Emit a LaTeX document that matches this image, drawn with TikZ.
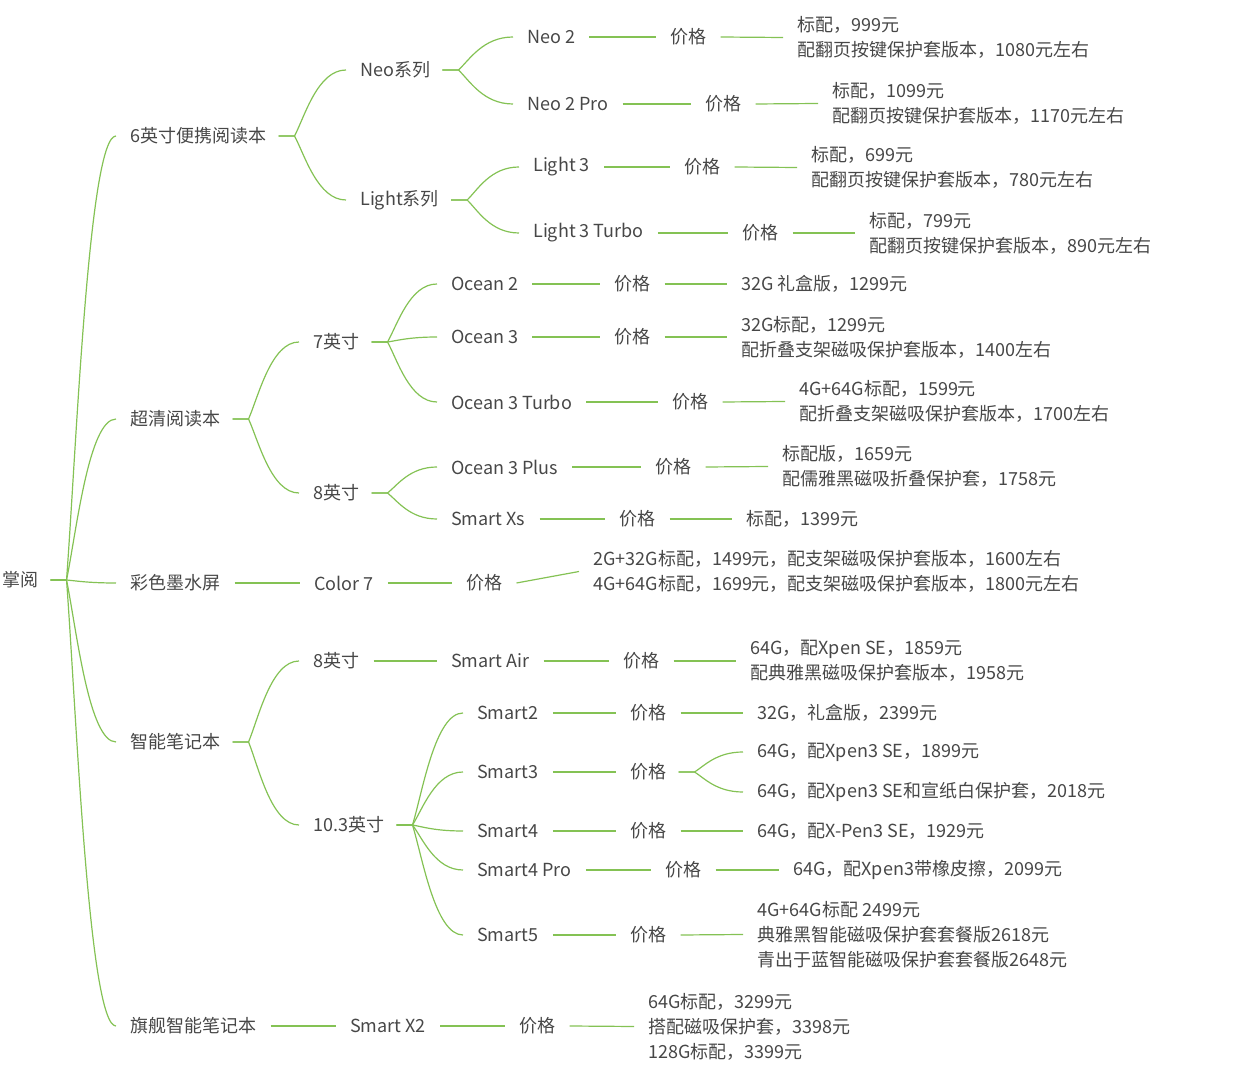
\documentclass[tikz,border=0pt]{standalone}
\usepackage{fontspec}
\setmainfont{Noto Sans CJK SC}
\usetikzlibrary{calc}
\definecolor{mapgreen}{RGB}{132,194,84}
\tikzset{
  txt/.style={anchor=west, inner sep=0pt, text=black!72, align=left,
    font=\fontsize{13.5}{18.75}\selectfont},
  link/.style={draw=mapgreen, line width=0.9pt},
}
% straight connector
\newcommand\link[2]{\draw[link] ($(#1.east)+(14,0)$) -- ($(#2.west)+(-14,0)$);}
% fork connector
\newcommand\fork[2]{\draw[link] let \p1=($(#1.east)+(28,0)$), \p2=($(#2.west)+(-14,0)$) in
  ($(#1.east)+(12,0)$) -- (\p1)
  .. controls ({\x1+0.2*(\x2-\x1)},{\y1+0.3*(\y2-\y1)}) and ({\x1+0.45*(\x2-\x1)},\y2) .. (\p2);}
\begin{document}
\begin{tikzpicture}[x=0.75pt, y=-0.75pt]
  \useasboundingbox (0,0) rectangle (1233,1080);

  % ROOT AND FIRST LEVEL
  \node[txt] (root)  at (2,580)    {掌阅};
  \node[txt] (six)   at (130,136)  {6英寸便携阅读本};
  \node[txt] (hd)    at (130,419)  {超清阅读本};
  \node[txt] (color) at (130,583)  {彩色墨水屏};
  \node[txt] (note)  at (130,742)  {智能笔记本};
  \node[txt] (flag)  at (130,1026) {旗舰智能笔记本};

  % SECOND LEVEL
  \node[txt] (neo)   at (360,70)   {Neo系列};
  \node[txt] (light) at (360,200)  {Light系列};
  \node[txt] (s7)    at (313,342)  {7英寸};
  \node[txt] (s8)    at (313,493)  {8英寸};
  \node[txt] (c7)    at (314,583)  {Color 7};
  \node[txt] (n8)    at (313,661)  {8英寸};
  \node[txt] (n10)   at (313,825)  {10.3英寸};
  \node[txt] (x2)    at (350,1026) {Smart X2};

  % MODELS
  \node[txt] (neo2)  at (527,37)  {Neo 2};
  \node[txt] (neo2p) at (527,104) {Neo 2 Pro};
  \node[txt] (l3)    at (533,167) {Light 3};
  \node[txt] (l3t)   at (533,233) {Light 3 Turbo};
  \node[txt] (oc2)   at (451,284) {Ocean 2};
  \node[txt] (oc3)   at (451,337) {Ocean 3};
  \node[txt] (oc3t)  at (451,402) {Ocean 3 Turbo};
  \node[txt] (oc3p)  at (451,467) {Ocean 3 Plus};
  \node[txt] (sxs)   at (451,519) {Smart Xs};
  \node[txt] (sair)  at (451,661) {Smart Air};
  \node[txt] (sm2)   at (477,713) {Smart2};
  \node[txt] (sm3)   at (477,772) {Smart3};
  \node[txt] (sm4)   at (477,831) {Smart4};
  \node[txt] (sm4p)  at (477,870) {Smart4 Pro};
  \node[txt] (sm5)   at (477,935) {Smart5};

  % PRICE LABELS
  \node[txt] (pneo2)  at (670,37)   {价格};
  \node[txt] (pneo2p) at (705,104)  {价格};
  \node[txt] (pl3)    at (684,167)  {价格};
  \node[txt] (pl3t)   at (742,233)  {价格};
  \node[txt] (poc2)   at (614,284)  {价格};
  \node[txt] (poc3)   at (614,337)  {价格};
  \node[txt] (poc3t)  at (672,402)  {价格};
  \node[txt] (poc3p)  at (655,467)  {价格};
  \node[txt] (psxs)   at (619,519)  {价格};
  \node[txt] (pc7)    at (466,583)  {价格};
  \node[txt] (psair)  at (623,661)  {价格};
  \node[txt] (psm2)   at (630,713)  {价格};
  \node[txt] (psm3)   at (630,772)  {价格};
  \node[txt] (psm4)   at (630,831)  {价格};
  \node[txt] (psm4p)  at (665,870)  {价格};
  \node[txt] (psm5)   at (630,935)  {价格};
  \node[txt] (px2)    at (519,1026) {价格};

  % PRICE DETAILS
  \node[txt] (dneo2)  at (797,37.5)  {标配，999元\\配翻页按键保护套版本，1080元左右};
  \node[txt] (dneo2p) at (832,103.5) {标配，1099元\\配翻页按键保护套版本，1170元左右};
  \node[txt] (dl3)    at (811,167.5) {标配，699元\\配翻页按键保护套版本，780元左右};
  \node[txt] (dl3t)   at (869,233)   {标配，799元\\配翻页按键保护套版本，890元左右};
  \node[txt] (doc2)   at (741,284)   {32G 礼盒版，1299元};
  \node[txt] (doc3)   at (741,337)   {32G标配，1299元\\配折叠支架磁吸保护套版本，1400左右};
  \node[txt] (doc3t)  at (799,401.5) {4G+64G标配，1599元\\配折叠支架磁吸保护套版本，1700左右};
  \node[txt] (doc3p)  at (782,466.5) {标配版，1659元\\配儒雅黑磁吸折叠保护套，1758元};
  \node[txt] (dsxs)   at (746,519)   {标配，1399元};
  \node[txt] (dc7)    at (593,571.5) {2G+32G标配，1499元，配支架磁吸保护套版本，1600左右\\4G+64G标配，1699元，配支架磁吸保护套版本，1800元左右};
  \node[txt] (dsair)  at (750,661)   {64G，配Xpen SE，1859元\\配典雅黑磁吸保护套版本，1958元};
  \node[txt] (dsm2)   at (757,713)   {32G，礼盒版，2399元};
  \node[txt] (dsm3a)  at (757,752)   {64G，配Xpen3 SE，1899元};
  \node[txt] (dsm3b)  at (757,792)   {64G，配Xpen3 SE和宣纸白保护套，2018元};
  \node[txt] (dsm4)   at (757,831)   {64G，配X-Pen3 SE，1929元};
  \node[txt] (dsm4p)  at (793,870)   {64G，配Xpen3带橡皮擦，2099元};
  \node[txt] (dsm5)   at (757,934.5) {4G+64G标配 2499元\\典雅黑智能磁吸保护套套餐版2618元\\青出于蓝智能磁吸保护套套餐版2648元};
  \node[txt] (dx2)    at (648,1026.5){64G标配，3299元\\搭配磁吸保护套，3398元\\128G标配，3399元};

  % CONNECTORS
  \foreach \c in {six,hd,color,note,flag} {\fork{root}{\c}}
  \foreach \c in {neo,light} {\fork{six}{\c}}
  \foreach \c in {s7,s8} {\fork{hd}{\c}}
  \foreach \c in {n8,n10} {\fork{note}{\c}}
  \foreach \c in {neo2,neo2p} {\fork{neo}{\c}}
  \foreach \c in {l3,l3t} {\fork{light}{\c}}
  \foreach \c in {oc2,oc3,oc3t} {\fork{s7}{\c}}
  \foreach \c in {oc3p,sxs} {\fork{s8}{\c}}
  \foreach \c in {sm2,sm3,sm4,sm4p,sm5} {\fork{n10}{\c}}
  \foreach \c in {dsm3a,dsm3b} {\fork{psm3}{\c}}
  \link{color}{c7} \link{flag}{x2} \link{n8}{sair}
  \foreach \m in {neo2,neo2p,l3,l3t,oc2,oc3,oc3t,oc3p,sxs,c7,sair,sm2,sm4,sm4p,sm5,x2} {
    \link{\m}{p\m} \link{p\m}{d\m}
  }
  \link{sm3}{psm3}
\end{tikzpicture}
\end{document}
